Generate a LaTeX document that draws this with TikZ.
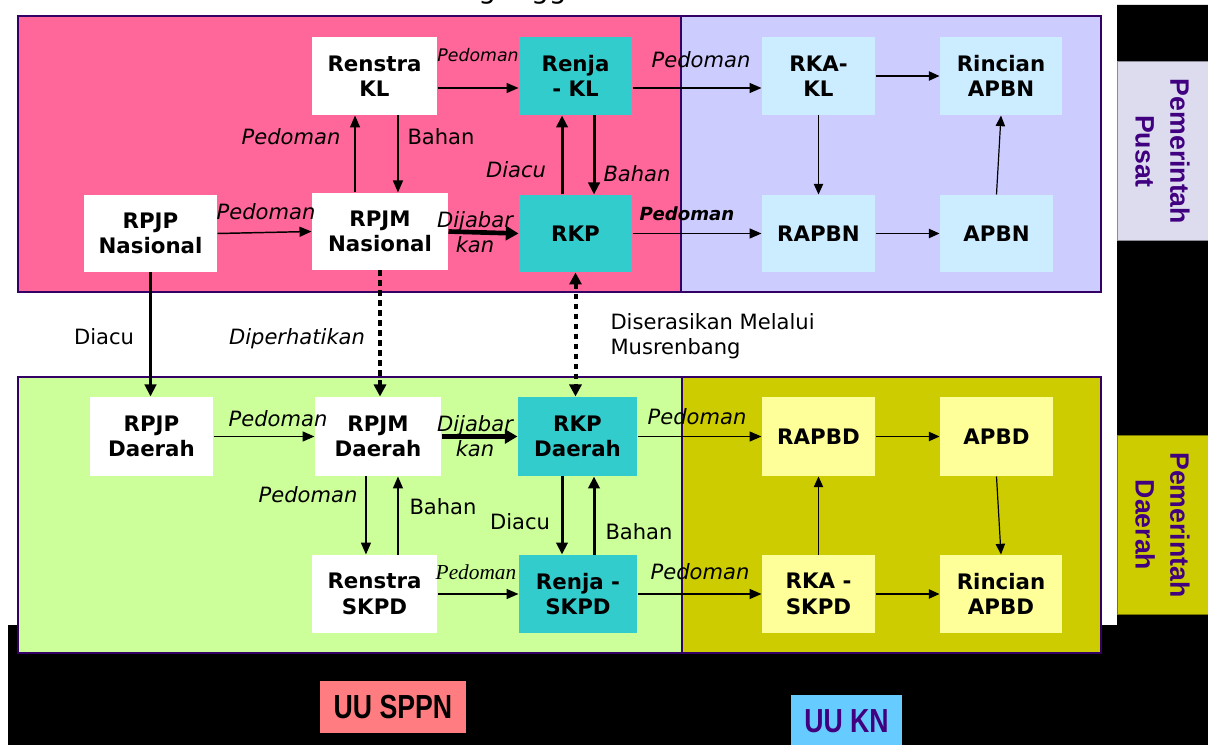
\documentclass[tikz,border=0pt]{standalone}
\usepackage{fontspec}
\setmainfont{DejaVu Sans}
\newfontfamily\arialfont{Liberation Sans}
\newfontfamily\timesfont{Liberation Serif}
\usetikzlibrary{arrows.meta}

\tikzset{every picture/.style={line width=0.75pt}}

\begin{document}
\begin{tikzpicture}[x=0.75pt,y=0.75pt,yscale=-1,xscale=1,
  region/.style={draw={rgb, 255:red, 51; green, 0; blue, 102 }, line width=1.1pt},
  box/.style={inner sep=0pt, align=center, minimum width=84.75pt, minimum height=58.5pt, font=\fontsize{16}{19}\selectfont\bfseries},
  whitebox/.style={box, fill=white},
  tealbox/.style={box, fill={rgb, 255:red, 51; green, 204; blue, 204 }},
  bluebox/.style={box, fill={rgb, 255:red, 204; green, 236; blue, 255 }},
  yellowbox/.style={box, fill={rgb, 255:red, 255; green, 255; blue, 153 }},
  lbl/.style={inner sep=0pt, align=center, anchor=base, font=\fontsize{15.8}{19}\selectfont},
  ilbl/.style={lbl, font=\fontsize{15.8}{19}\selectfont\itshape},
  sidebox/.style={rotate=-90, inner sep=0pt, align=center, minimum width=134.25pt, minimum height=68.25pt, text={rgb, 255:red, 64; green, 0; blue, 128 }, font=\arialfont\bfseries\fontsize{20}{26}\selectfont},
  uubox/.style={inner sep=0pt, minimum height=39pt, font=\arialfont\bfseries\fontsize{25}{30}\selectfont},
  arr/.style={line width=1.1pt, -{Triangle[length=9pt,width=7.5pt]}},
  tarr/.style={line width=0.9pt, -{Triangle[length=8pt,width=7pt]}},
  fatarr/.style={line width=2.25pt, -{Triangle[length=9pt,width=8.5pt]}},
  dijarr/.style={line width=3.5pt, -{Triangle[length=9.5pt,width=10.5pt]}},
  dotarr/.style={line width=3pt, dash pattern=on 4pt off 3.5pt, -{Triangle[length=9pt,width=9pt]}}
]
\useasboundingbox (0,0) rectangle (1208,745);

%Black background
\fill [black] (8,625) -- (1117,625) -- (1117,5) -- (1208,5) -- (1208,745) -- (8,745) -- cycle;
% Text Node (title, cut off at the top)
\node (judul) [anchor=base west, inner sep=0pt, font=\fontsize{21}{24}\selectfont] at (427,-1) {Penganggaran};

%Shape: Rectangle (pemerintah pusat)
\draw [region, fill={rgb, 255:red, 255; green, 102; blue, 153 }] (18,16) rectangle (681,292);
\draw [region, fill={rgb, 255:red, 204; green, 204; blue, 255 }] (681,16) rectangle (1101,292);
%Shape: Rectangle (pemerintah daerah)
\draw [region, fill={rgb, 255:red, 204; green, 255; blue, 153 }] (18,377) rectangle (682,653);
\draw [region, fill={rgb, 255:red, 204; green, 204; blue, 0 }] (682,377) rectangle (1101,653);

%Boxes, pusat
\node (renstrakl) [whitebox, minimum width=93.75pt] at (374.5,76) {Renstra\\KL};
\node (renjakl) [tealbox] at (575.5,76) {Renja\\- KL};
\node (rkakl) [bluebox] at (818.5,76) {RKA-\\KL};
\node (rincianapbn) [bluebox, minimum width=91.5pt] at (1001,76) {Rincian\\APBN};
\node (rpjpnas) [whitebox, minimum width=99.75pt, minimum height=57.75pt] at (150.5,233.5) {RPJP\\Nasional};
\node (rpjmnas) [whitebox, minimum width=102pt, minimum height=57.75pt] at (380,231.5) {RPJM\\Nasional};
\node (rkp) [tealbox, minimum height=57.75pt] at (575.5,233.5) {RKP};
\node (rapbn) [bluebox, minimum height=57.75pt] at (818.5,233.5) {RAPBN};
\node (apbn) [bluebox, minimum height=57.75pt] at (996.5,233.5) {APBN};

%Boxes, daerah
\node (rpjpda) [whitebox, minimum width=92.25pt, minimum height=59.25pt] at (151.5,436.5) {RPJP\\Daerah};
\node (rpjmda) [whitebox, minimum width=94.5pt, minimum height=59.25pt] at (378,436.5) {RPJM\\Daerah};
\node (rkpda) [tealbox, minimum width=89.25pt, minimum height=59.25pt] at (577.5,436.5) {RKP\\Daerah};
\node (rapbd) [yellowbox, minimum height=59.25pt] at (818.5,436.5) {RAPBD};
\node (apbd) [yellowbox, minimum height=59.25pt] at (996.5,436.5) {APBD};
\node (renstraskpd) [whitebox, minimum width=93.75pt] at (374.5,594) {Renstra\\SKPD};
\node (renjaskpd) [tealbox, minimum width=88.5pt] at (578,594) {Renja -\\SKPD};
\node (rkaskpd) [yellowbox] at (818.5,594) {RKA -\\SKPD};
\node (rincianapbd) [yellowbox, minimum width=91.5pt] at (1001,594) {Rincian\\APBD};

%Side labels
\node (pusat) [sidebox, draw={rgb, 255:red, 140; green, 140; blue, 150 }, fill={rgb, 255:red, 220; green, 220; blue, 238 }] at (1162.5,151.5) {Pemerintah\\Pusat};
\node (daerah) [sidebox, minimum width=133.5pt, draw={rgb, 255:red, 120; green, 120; blue, 0 }, fill={rgb, 255:red, 204; green, 204; blue, 0 }] at (1162.5,525) {Pemerintah\\Daerah};

%Law labels
\node (uusppn) [uubox, minimum width=109.5pt, fill={rgb, 255:red, 255; green, 124; blue, 128 }] at (393,707) {\scalebox{0.8}[1]{UU SPPN}};
\node (uukn) [uubox, minimum width=83.25pt, fill={rgb, 255:red, 102; green, 204; blue, 255 }, text={rgb, 255:red, 64; green, 0; blue, 128 }] at (846.5,721) {\scalebox{0.8}[1]{UU KN}};

%Straight Lines, pusat
\draw [arr] ([yshift=9pt]renstrakl.east) -- ([yshift=9pt]renjakl.west);
\draw [arr] ([yshift=9pt]renjakl.east) -- ([yshift=9pt]rkakl.west);
\draw [tarr] (rkakl) -- (rincianapbn);
\draw [arr] (rpjpnas.east) -- (rpjmnas.west);
\draw [dijarr] (rpjmnas.east) -- (rkp.west);
\draw [arr] (rkp) -- (rapbn);
\draw [tarr] (rapbn) -- (apbn);
\draw [arr] ([xshift=-14.6pt]renstrakl.south |- rpjmnas.north) -- ([xshift=-14.6pt]renstrakl.south);
\draw [arr] ([xshift=17.6pt]renstrakl.south) -- ([xshift=17.6pt]renstrakl.south |- rpjmnas.north);
\draw [fatarr] ([xshift=-10.1pt]renjakl.south |- rkp.north) -- ([xshift=-10.1pt]renjakl.south);
\draw [fatarr] ([xshift=13.9pt]renjakl.south) -- ([xshift=13.9pt]renjakl.south |- rkp.north);
\draw [tarr] (rkakl) -- (rapbn);
\draw [tarr] (apbn.north) -- (rincianapbn.south);

%Straight Lines, pusat to daerah
\draw [fatarr] (rpjpnas.south) -- (rpjpnas.south |- rpjpda.north);
\draw [dotarr] (rpjmnas.south) -- (rpjmnas.south |- rpjmda.north);
\draw [dotarr, {Triangle[length=9pt,width=9pt]}-{Triangle[length=9pt,width=9pt]}] (rkp.south) -- (rkp.south |- rkpda.north);

%Straight Lines, daerah
\draw [arr] (rpjpda) -- (rpjmda);
\draw [dijarr] (rpjmda) -- (rkpda);
\draw [arr] (rkpda) -- (rapbd);
\draw [tarr] (rapbd) -- (apbd);
\draw [arr] (renstraskpd) -- (renjaskpd);
\draw [arr] (renjaskpd) -- (rkaskpd);
\draw [tarr] (rkaskpd) -- (rincianapbd);
\draw [arr] ([xshift=-6.4pt]renstraskpd.north |- rpjmda.south) -- ([xshift=-6.4pt]renstraskpd.north);
\draw [arr] ([xshift=17.6pt]renstraskpd.north) -- ([xshift=17.6pt]renstraskpd.north |- rpjmda.south);
\draw [fatarr] ([xshift=-12pt]renjaskpd.north |- rkpda.south) -- ([xshift=-12pt]renjaskpd.north);
\draw [fatarr] ([xshift=12pt]renjaskpd.north) -- ([xshift=12pt]renjaskpd.north |- rkpda.south);
\draw [tarr] (rkaskpd) -- (rapbd);
\draw [tarr] (apbd.south) -- (rincianapbd.north);

% Text Node
\node (pedrk) [ilbl, font=\fontsize{13}{16}\selectfont\itshape] at (478,62) {Pedoman};
\node (pedrka) [ilbl] at (701,68) {Pedoman};
\node (pedrenstra) [ilbl] at (291,145) {Pedoman};
\node (bahanrpjm) [lbl] at (441,145) {Bahan};
\node (diacurenja) [ilbl] at (516,178) {Diacu};
\node (bahanrenja) [ilbl] at (637,182) {Bahan};
\node (pedrpjm) [ilbl] at (266,220) {Pedoman};
\node (dijrkp) [ilbl, anchor=north] at (475,211) {Dijabar\\kan};
\node (pedrapbn) [ilbl, font=\fontsize{13.6}{16}\selectfont\bfseries\itshape] at (687,221) {Pedoman};
\node (diacuda) [lbl] at (104,345) {Diacu};
\node (diperhatikan) [ilbl] at (297,345) {Diperhatikan};
\node (diserasikan) [lbl, anchor=north west, align=left, font=\fontsize{15.8}{18.5}\selectfont] at (610,313) {Diserasikan Melalui\\Musrenbang};
\node (pedrpjmda) [ilbl] at (278,427) {Pedoman};
\node (dijrkpda) [ilbl, anchor=north] at (475,415) {Dijabar\\kan};
\node (pedrapbd) [ilbl] at (697,425) {Pedoman};
\node (pedskpd) [ilbl] at (308,503) {Pedoman};
\node (bahanrpjmda) [lbl] at (443,514) {Bahan};
\node (diacuskpd) [lbl] at (520,530) {Diacu};
\node (bahanrkpda) [lbl] at (639,539) {Bahan};
\node (pedrenja) [ilbl, font=\timesfont\itshape\fontsize{16}{18}\selectfont] at (476,580) {Pedoman};
\node (pedrkaskpd) [ilbl] at (700,580) {Pedoman};

\end{tikzpicture}
\end{document}
